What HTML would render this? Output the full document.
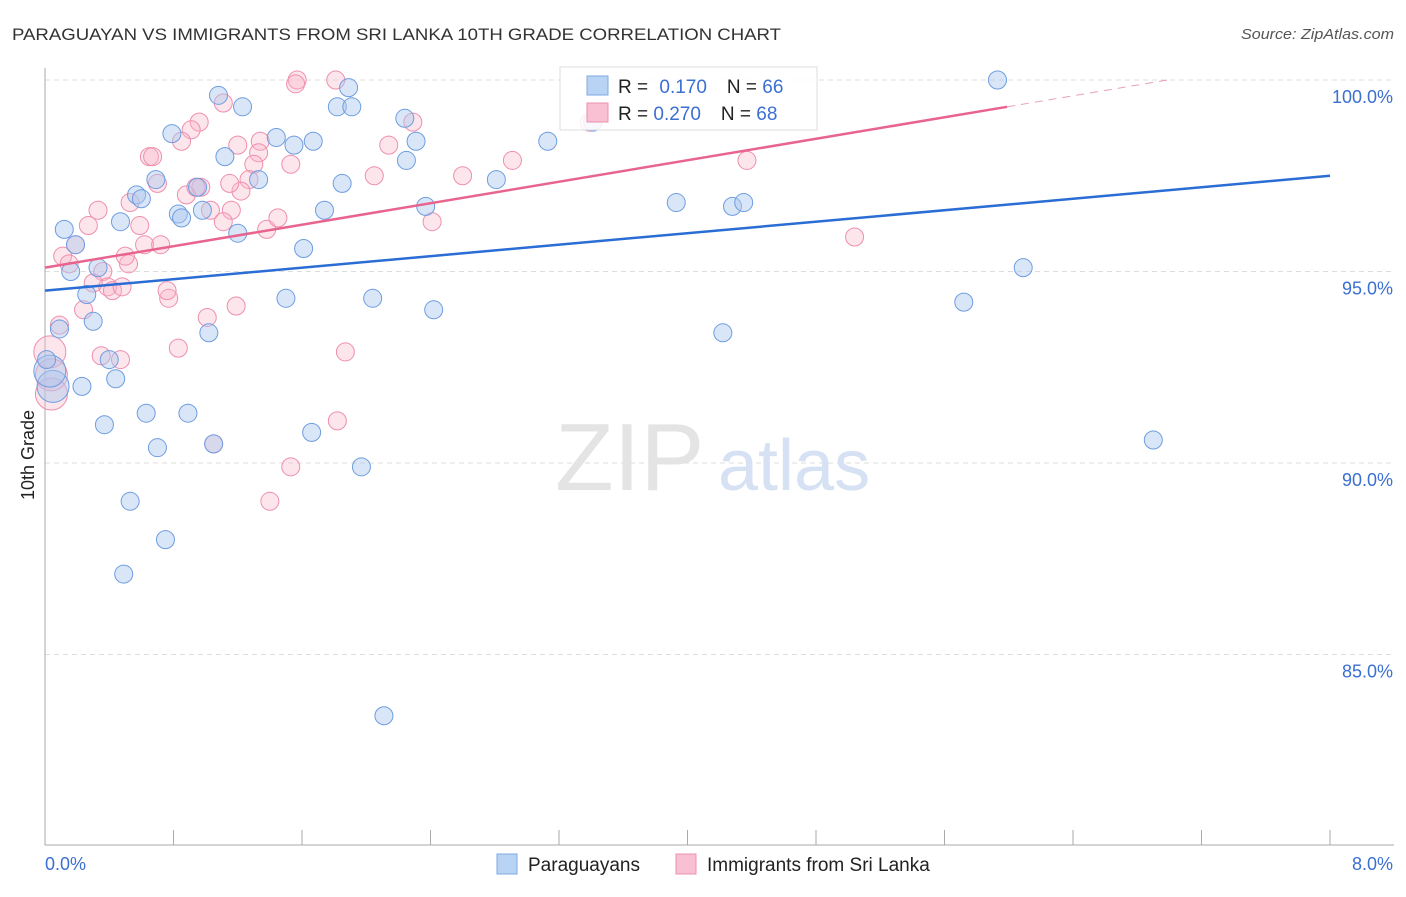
<!DOCTYPE html>
<html><head><meta charset="utf-8"><style>
body{margin:0;background:#fff;font-family:"Liberation Sans",sans-serif}
svg text{font-family:"Liberation Sans",sans-serif}
</style></head><body>
<svg id="chart" width="1406" height="892" viewBox="0 0 1406 892" xmlns="http://www.w3.org/2000/svg">
<text x="12" y="40" font-size="17" fill="#333" textLength="769" lengthAdjust="spacingAndGlyphs">PARAGUAYAN VS IMMIGRANTS FROM SRI LANKA 10TH GRADE CORRELATION CHART</text>
<text x="1394" y="39" font-size="15" fill="#555" font-style="italic" text-anchor="end" textLength="153" lengthAdjust="spacingAndGlyphs">Source: ZipAtlas.com</text>
<g id="grid"></g>
<g id="axes"></g>
<text x="555" y="490" font-size="96" fill="#e4e4e4" font-family="Liberation Serif">ZIP</text>
<text x="718" y="490" font-size="72" fill="#d6e2f3">atlas</text>
<g id="pts"></g>
<g id="lines"></g>
<text transform="translate(34,455) rotate(-90)" font-size="18" fill="#222" text-anchor="middle">10th Grade</text>
<g>
<rect x="560" y="67" width="257" height="63" fill="#fff" fill-opacity="0.85" stroke="#ddd"/>
<rect x="587" y="76" width="21" height="19" fill="#b9d3f5" stroke="#7fa8e0"/>
<rect x="587" y="103" width="21" height="19" fill="#f8c0d2" stroke="#ec90ae"/>
<text x="618" y="93" font-size="19" fill="#222">R = <tspan fill="#3b6fd1" dx="6">0.170</tspan><tspan dx="20" fill="#222">N = </tspan><tspan fill="#3b6fd1">66</tspan></text>
<text x="618" y="120" font-size="19" fill="#222">R = <tspan fill="#3b6fd1">0.270</tspan><tspan dx="20" fill="#222">N = </tspan><tspan fill="#3b6fd1">68</tspan></text>
</g>
<g>
<rect x="497" y="854" width="20" height="20" fill="#b9d3f5" stroke="#7fa8e0"/>
<text x="528" y="871" font-size="19" fill="#222">Paraguayans</text>
<rect x="676" y="854" width="20" height="20" fill="#f8c0d2" stroke="#ec90ae"/>
<text x="707" y="871" font-size="19" fill="#222">Immigrants from Sri Lanka</text>
</g>
</svg>
<script>
const blueX=[0.12,0.16,0.19,0.26,0.30,0.33,0.37,0.40,0.44,0.23,0.05,0.03,0.09,0.49,0.53,0.57,0.60,0.47,0.63,0.69,0.70,0.75,0.79,0.83,0.85,0.89,0.95,0.98,1.02,1.05,1.08,1.12,1.20,1.23,1.33,1.44,1.50,1.55,1.61,1.66,1.67,1.74,1.82,1.85,1.89,1.91,1.97,2.04,2.11,2.24,2.25,2.31,2.37,2.42,2.81,3.13,3.41,3.93,4.22,4.28,4.35,5.72,5.93,6.09,6.90,0.01];
const blueY=[96.1,95.0,95.7,94.4,93.7,95.1,91.0,92.7,92.2,92.0,92.0,92.4,93.5,87.1,89.0,97.0,96.9,96.3,91.3,97.4,90.4,88.0,98.6,96.5,96.4,91.3,97.2,96.6,93.4,90.5,99.6,98.0,96.0,99.3,97.4,98.5,94.3,98.3,95.6,90.8,98.4,96.6,99.3,97.3,99.8,99.3,89.9,94.3,83.4,99.0,97.9,98.4,96.7,94.0,97.4,98.4,98.9,96.8,93.4,96.7,96.8,94.2,100.0,95.1,90.6,92.7];
const pinkX=[1.57,1.81,1.11,0.96,0.91,0.85,0.65,0.67,0.70,0.33,0.27,0.19,0.11,0.15,0.36,0.39,0.42,0.30,0.24,0.09,0.35,0.47,0.03,0.04,0.04,1.20,1.34,1.33,1.30,1.27,1.22,1.15,1.16,1.03,0.97,0.88,0.94,1.11,1.38,1.45,1.53,1.53,1.40,1.87,1.82,1.19,1.01,0.83,0.77,0.76,0.62,0.59,0.53,0.52,0.50,0.72,1.05,2.05,2.14,2.29,2.41,2.60,2.91,4.37,5.04,3.39,1.56,0.48];
const pinkY=[100.0,100.0,99.4,98.9,98.7,98.4,98.0,98.0,97.3,96.6,96.2,95.7,95.4,95.2,95.0,94.6,94.5,94.7,94.0,93.6,92.8,92.7,92.9,92.3,91.8,98.3,98.4,98.1,97.8,97.4,97.1,97.3,96.6,96.6,97.2,97.0,97.2,96.3,96.1,96.4,97.8,89.9,89.0,92.9,91.1,94.1,93.8,93.0,94.3,94.5,95.7,96.2,96.8,95.2,95.4,95.7,90.5,97.5,98.3,98.9,96.3,97.5,97.9,97.9,95.9,98.9,99.9,94.6];
const bigBlue=[10,11], bigPink=[22,23,24];
const yTicks=[100,95,90,85];
const xTickLabels=["0.0%","8.0%"];
const blueTrend=[94.5,97.5], pinkTrend=[95.1,99.3], pinkTrendEnd=5.99;
const NS="http://www.w3.org/2000/svg";
const X0=45,X1=1330,Y100=80,PXY=38.3;
function sx(v){return X0+v*(X1-X0)/8;}
function sy(v){return Y100+(100-v)*PXY;}
function mk(t,a,p){const e=document.createElementNS(NS,t);for(const k in a)e.setAttribute(k,a[k]);p.appendChild(e);return e;}
const grid=document.getElementById('grid'),axes=document.getElementById('axes'),pts=document.getElementById('pts'),lines=document.getElementById('lines');
yTicks.forEach(t=>{
 const l=mk('line',{x1:X0,x2:1394,y1:sy(t),y2:sy(t),stroke:'#ddd','stroke-dasharray':'5,4'},grid);
 
 
 const tx=mk('text',{x:1393,y:sy(t)+23,'font-size':18,fill:'#3b6fd1','text-anchor':'end'},axes);
 tx.textContent=t.toFixed(1)+'%';
 
 
});
const ya=mk('line',{x1:X0,x2:X0,y1:68,y2:845,stroke:'#aaa'},axes);


const xa=mk('line',{x1:X0,x2:1394,y1:845,y2:845,stroke:'#aaa'},axes);


for(let i=1;i<=10;i++){const x=X0+i*128.5;const t=mk('line',{x1:x,x2:x,y1:830,y2:845,stroke:'#aaa'},axes);
 
 }
[[0,xTickLabels[0],'start',45],[8,xTickLabels[1],'end',1393]].forEach(d=>{
 const t=mk('text',{x:d[3],y:870,'font-size':18,fill:'#3b6fd1','text-anchor':d[2]},axes);t.textContent=d[1];
 
 });
pinkX.forEach((x,i)=>{const r=bigPink.includes(i)?16:9;
 const c=mk('circle',{cx:sx(x),cy:sy(pinkY[i]),r:r,fill:'rgba(248,180,200,0.35)',stroke:'#ee8fae','stroke-width':1},pts);
 
 });
blueX.forEach((x,i)=>{const r=bigBlue.includes(i)?16:9;
 const c=mk('circle',{cx:sx(x),cy:sy(blueY[i]),r:r,fill:'rgba(170,200,240,0.45)',stroke:'#6e9de0','stroke-width':1},pts);
 
 });
const bl=mk('line',{x1:sx(0),y1:sy(blueTrend[0]),x2:sx(8),y2:sy(blueTrend[1]),stroke:'#2a6dd4','stroke-width':2.5},lines);


const pl=mk('line',{x1:sx(0),y1:sy(pinkTrend[0]),x2:sx(pinkTrendEnd),y2:sy(pinkTrend[1]),stroke:'#e8648f','stroke-width':2.5},lines);


const slope=(pinkTrend[1]-pinkTrend[0])/pinkTrendEnd;
const xe=(100-pinkTrend[0])/slope;
const pd=mk('line',{x1:sx(pinkTrendEnd),y1:sy(pinkTrend[1]),x2:sx(xe),y2:sy(100),stroke:'#e8a0b8','stroke-width':1,'stroke-dasharray':'8,6'},lines);


</script>
</body></html>
